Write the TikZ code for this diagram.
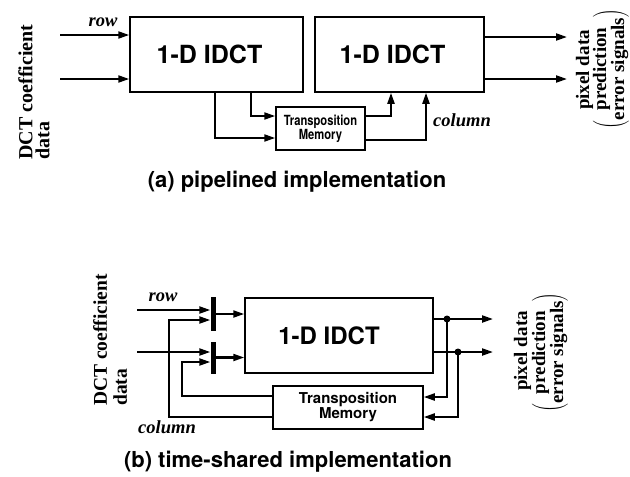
\documentclass[tikz,border=0pt]{standalone}
\usepackage{graphicx}
\usepackage{fontspec}
\setmainfont{Liberation Serif}
\setsansfont{TeX Gyre Heros}
\usetikzlibrary{arrows.meta}
\begin{document}
\begin{tikzpicture}[x=1pt,y=-1pt,
  blk/.style={draw,line width=1.5pt,inner sep=0pt,font=\sffamily\bfseries\fontsize{25}{30}\selectfont},
  memblk/.style={draw,line width=1.5pt,inner sep=0pt,align=center},
  wire/.style={line width=2.1pt},
  arr/.style={wire,-{Triangle[length=11pt,width=7pt]}},
  tag/.style={font=\bfseries\itshape\fontsize{18.5}{20}\selectfont},
  side/.style={rotate=90,inner sep=0pt},
  capt/.style={font=\sffamily\bfseries\fontsize{22}{26}\selectfont},
  latch/.style={fill,minimum width=5pt,inner sep=0pt},
  junction/.style={circle,fill,minimum size=7pt,inner sep=0pt}
]
\useasboundingbox (0,0) rectangle (630,477);

% ---------------- (a) pipelined ----------------
\node[blk,minimum width=173pt,minimum height=75pt] (ia1) at (216.5,54.5) {1-D IDCT\hspace*{14pt}};
\node[blk,minimum width=169pt,minimum height=75pt] (ia2) at (399.5,54.5) {1-D IDCT\hspace*{14pt}};
\node[memblk,minimum width=89pt,minimum height=43pt,
      font=\sffamily\bfseries\fontsize{14}{14}\selectfont] (ma) at (320.5,128.5)
  {\scalebox{0.8}[1]{Transposition}\\\scalebox{0.8}[1]{Memory}};

% inputs
\coordinate (ina1) at (60,35);
\coordinate (ina2) at (60,79);
\draw[arr] (ina1) -- (ina1 -| ia1.west);
\draw[arr] (ina2) -- (ina2 -| ia1.west);
\node[tag] (rowa) at (103,22) {row};

% into the transposition memory
\coordinate (ta1) at (251,116);
\coordinate (ta2) at (215,138);
\draw[arr] (ia1.south -| ta1) -- (ta1) -- (ta1 -| ma.west);
\draw[arr] (ia1.south -| ta2) -- (ta2) -- (ta2 -| ma.west);

% out of the transposition memory
\coordinate (tb1) at (391,116);
\coordinate (tb2) at (426,140);
\draw[arr] (ma.east |- tb1) -- (tb1) -- (tb1 |- ia2.south);
\draw[arr] (ma.east |- tb2) -- (tb2) -- (tb2 |- ia2.south);
\node[tag] (cola) at (462,120) {column};

% outputs
\coordinate (oa1) at (567,37);
\coordinate (oa2) at (567,79);
\draw[arr] (ia2.east |- oa1) -- (oa1);
\draw[arr] (ia2.east |- oa2) -- (oa2);

% side labels
\node[side,align=left,font=\bfseries\fontsize{20}{17}\selectfont] (dcta) at (34,92) {DCT coefficient\\data};
\node[side,font=\bfseries\fontsize{19}{16.5}\selectfont] (pxa) at (584.5,70) {pixel data};
\node[side,font=\bfseries\fontsize{19}{16.5}\selectfont] (pea) at (611,69)
  {$\left(\vcenter{\hbox{\begin{tabular}{@{}c@{}}prediction\\error signals\end{tabular}}}\right)$};

\node[capt] (capa) at (297,182) {(a) pipelined implementation};

% ---------------- (b) time-shared ----------------
\node[blk,minimum width=188pt,minimum height=75pt,font=\sffamily\bfseries\fontsize{24}{30}\selectfont] (ib) at (339,335.5) {1-D IDCT\hspace*{20pt}};
\node[memblk,minimum width=150pt,minimum height=43pt,
      font=\sffamily\bfseries\fontsize{15}{15}\selectfont] (mb) at (348,407.5)
  {Transposition\\Memory};

% input latches
\node[latch,minimum height=34pt] (l1) at (213,314) {};
\node[latch,minimum height=32pt] (l2) at (213,357.5) {};

\coordinate (inb1) at (137,310);
\coordinate (inb2) at (137,352);
\draw[arr] (inb1) -- (inb1 -| l1.west);
\draw[arr] (inb2) -- (inb2 -| l2.west);
\draw[arr] (l1.east) -- (l1.east -| ib.west);
\draw[arr] (l2.east) -- (l2.east -| ib.west);
\node[tag] (rowb) at (163,297) {row};

% column feedback from the transposition memory
\coordinate (cb1) at (169,417);
\coordinate (cb1t) at (169,320);
\coordinate (cb2) at (182,396);
\coordinate (cb2t) at (182,362);
\draw[arr] (mb.west |- cb1) -- (cb1) -- (cb1t) -- (cb1t -| l1.west);
\draw[arr] (mb.west |- cb2) -- (cb2) -- (cb2t) -- (cb2t -| l2.west);
\node[tag] (colb) at (167,427) {column};

% outputs with taps back into the memory
\coordinate (ob1) at (493,319);
\coordinate (ob2) at (493,352);
\draw[arr] (ib.east |- ob1) -- (ob1);
\draw[arr] (ib.east |- ob2) -- (ob2);
\node[junction] (d1) at (447,319) {};
\node[junction] (d2) at (458,352) {};
\coordinate (rb1) at (447,397);
\coordinate (rb2) at (458,417);
\draw[arr] (d1.center) -- (rb1) -- (rb1 -| mb.east);
\draw[arr] (d2.center) -- (rb2) -- (rb2 -| mb.east);

% side labels
\node[side,align=left,font=\bfseries\fontsize{19.5}{20}\selectfont] (dctb) at (110,340) {DCT coefficient\\data};
\node[side,font=\bfseries\fontsize{19}{16.5}\selectfont] (pxb) at (522.5,351) {pixel data};
\node[side,font=\bfseries\fontsize{19}{16.5}\selectfont] (peb) at (550,352.5)
  {$\left(\vcenter{\hbox{\begin{tabular}{@{}c@{}}prediction\\error signals\end{tabular}}}\right)$};

\node[capt] (capb) at (288,462) {(b) time-shared implementation};
\end{tikzpicture}
\end{document}
